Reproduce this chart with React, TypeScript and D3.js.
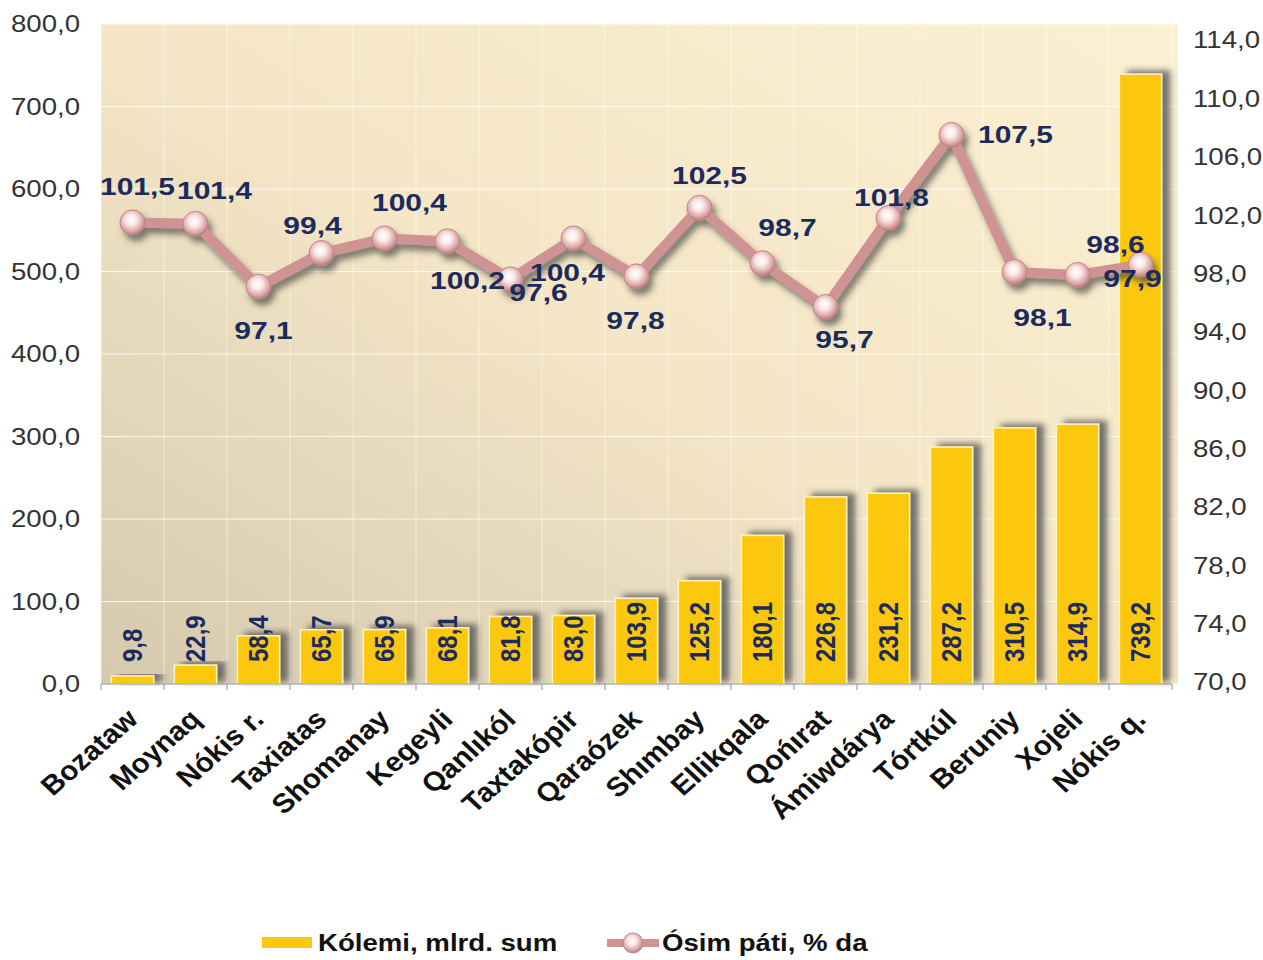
import React from 'react';
import * as d3 from 'd3';

const categories = ['Bozataw', 'Moynaq', 'Nókis r.', 'Taxiatas', 'Shomanay', 'Kegeyli', 'Qanlıkól', 'Taxtakópir', 'Qaraózek', 'Shımbay', 'Ellikqala', 'Qońırat', 'Ámiwdárya', 'Tórtkúl', 'Beruniy', 'Xojeli', 'Nókis q.'];
const volume = [9.8, 22.9, 58.4, 65.7, 65.9, 68.1, 81.8, 83.0, 103.9, 125.2, 180.1, 226.8, 231.2, 287.2, 310.5, 314.9, 739.2];
const growth = [101.5, 101.4, 97.1, 99.4, 100.4, 100.2, 97.6, 100.4, 97.8, 102.5, 98.7, 95.7, 101.8, 107.5, 98.1, 97.9, 98.6];
const leftTicks = [0, 100, 200, 300, 400, 500, 600, 700, 800];
const rightTicks = [70, 74, 78, 82, 86, 90, 94, 98, 102, 106, 110, 114];
const seriesNames = ['Kólemi, mlrd. sum', 'Ósim páti, % da'];

// label placement offsets for line labels (layout only)
const lineLabelOffsets: [number, number][] = [
  [5, -36], [19, -33], [5, 44], [-9, -27], [25, -36], [20, 39], [28, 13], [-6, 34],
  [-1, 44], [10, -32], [25, -36], [19, 33], [3, -20], [64, 0], [28, 46], [55, 4], [-25, -20],
];

const fmt = (v: number) => v.toFixed(1).replace('.', ',');
const FONT = 'Arial, "Liberation Sans", sans-serif';
const SX = 1.15; // horizontal stretch of the reference's text

export default function App() {
  const plotL = 101, plotR = 1172, plotT = 24, plotB = 684;
  const x = d3.scaleBand<string>().domain(categories).range([plotL, plotR]).paddingInner(0.33).paddingOuter(0.165);
  const yL = d3.scaleLinear().domain([0, 800]).range([plotB, plotT]);
  const yR = d3.scaleLinear().domain([70, 114]).range([682, 40]);
  const step = x.step();
  const gridX = d3.range(categories.length + 1).map(i => plotL + i * step);
  const cx = (c: string) => (x(c) as number) + x.bandwidth() / 2;
  const line = d3.line<number>().x((_, i) => cx(categories[i])).y(v => yR(v));

  return (
    <svg width={1263} height={960} style={{ position: 'absolute', left: 0, top: 0, background: '#fff' }} fontFamily={FONT}>
      <defs>
        <linearGradient id="bg" x1="1" y1="0" x2="0" y2="1">
          <stop offset="0" stopColor="#fbf0d2" />
          <stop offset="0.5" stopColor="#f4e6c6" />
          <stop offset="1" stopColor="#d5c9ae" />
        </linearGradient>
        <radialGradient id="marker" cx="0.45" cy="0.4" r="0.6">
          <stop offset="0" stopColor="#ffffff" />
          <stop offset="0.35" stopColor="#fbe9e9" />
          <stop offset="0.8" stopColor="#d9a0a0" />
          <stop offset="1" stopColor="#b87878" />
        </radialGradient>
        <filter id="barShadow" x="-0.2" y="-0.2" width="1.6" height="1.4">
          <feDropShadow dx="8" dy="-3" stdDeviation="3" floodColor="#555" floodOpacity="0.8" />
        </filter>
        <filter id="lineShadow" x="-0.1" y="-0.2" width="1.2" height="1.5">
          <feDropShadow dx="4" dy="6" stdDeviation="3" floodColor="#333" floodOpacity="0.6" />
        </filter>
      </defs>

      <rect x={plotL} y={plotT} width={plotR - plotL + 6} height={plotB - plotT} fill="url(#bg)" />
      {leftTicks.map(t => (
        <line key={'h' + t} x1={plotL} x2={plotR + 6} y1={yL(t)} y2={yL(t)} stroke="#ffffff" strokeOpacity={0.8} strokeWidth={1.2} />
      ))}
      {gridX.map((gx, i) => (
        <line key={'v' + i} x1={gx} x2={gx} y1={plotT} y2={plotB} stroke="#ffffff" strokeOpacity={0.5} strokeWidth={1} />
      ))}

      {/* bars */}
      {categories.map((c, i) => (
        <rect key={'b' + c} x={x(c)} y={yL(volume[i])} width={x.bandwidth()} height={plotB - yL(volume[i])}
          fill="#fcc80a" stroke="#fff4c0" strokeWidth={1.5} filter="url(#barShadow)" />
      ))}
      {categories.map((c, i) => (
        <text key={'bl' + c} transform={`translate(${cx(c)},${plotB - 22}) scale(${SX},1) rotate(-90)`} textAnchor="start"
          dy="0.35em" fontSize={24} fontWeight="bold" fill="#1c2b5e">{fmt(volume[i])}</text>
      ))}

      {/* axis line */}
      <line x1={plotL} x2={plotR} y1={plotB} y2={plotB} stroke="#8a8fa8" strokeWidth={1.2} />
      {gridX.map((gx, i) => (
        <line key={'t' + i} x1={gx} x2={gx} y1={plotB} y2={plotB + 6} stroke="#8a8fa8" />
      ))}

      {/* line series */}
      <g filter="url(#lineShadow)">
        <path d={line(growth) as string} fill="none" stroke="#d09393" strokeWidth={10} strokeLinejoin="round" />
        {categories.map((c, i) => (
          <circle key={'m' + c} cx={cx(c)} cy={yR(growth[i])} r={12.5} fill="url(#marker)" stroke="#c08585" strokeWidth={1} />
        ))}
      </g>
      {categories.map((c, i) => (
        <text key={'ll' + c} transform={`translate(${cx(c) + lineLabelOffsets[i][0]},${yR(growth[i]) + lineLabelOffsets[i][1]}) scale(1.25,1)`}
          dy="0.35em" textAnchor="middle" fontSize={24} fontWeight="bold" fill="#1c2b5e">{fmt(growth[i])}</text>
      ))}

      {/* left axis */}
      {leftTicks.map(t => (
        <text key={'lt' + t} transform={`translate(80,${yL(t)}) scale(${SX},1)`} dy="0.35em" textAnchor="end" fontSize={24} fill="#333">{fmt(t)}</text>
      ))}
      {/* right axis */}
      {rightTicks.map(t => (
        <text key={'rt' + t} transform={`translate(1193,${yR(t)}) scale(${SX},1)`} dy="0.35em" textAnchor="start" fontSize={24} fill="#333">{fmt(t)}</text>
      ))}

      {/* x labels */}
      {categories.map(c => (
        <text key={'xl' + c} transform={`translate(${cx(c) + 7},${plotB + 37}) scale(1.1,1) rotate(-44)`} textAnchor="end"
          fontSize={27} fontWeight="bold" fill="#111">{c}</text>
      ))}

      {/* legend */}
      <rect x={262} y={937} width={50} height={11} fill="#fcc80a" />
      <text transform={`translate(318,943) scale(${SX},1)`} dy="0.35em" fontSize={24} fontWeight="bold" fill="#111">{seriesNames[0]}</text>
      <line x1={607} x2={659} y1={943} y2={943} stroke="#d09393" strokeWidth={8} />
      <circle cx={633} cy={943} r={10} fill="url(#marker)" stroke="#c08585" />
      <text transform={`translate(662,943) scale(${SX},1)`} dy="0.35em" fontSize={24} fontWeight="bold" fill="#111">{seriesNames[1]}</text>
    </svg>
  );
}
